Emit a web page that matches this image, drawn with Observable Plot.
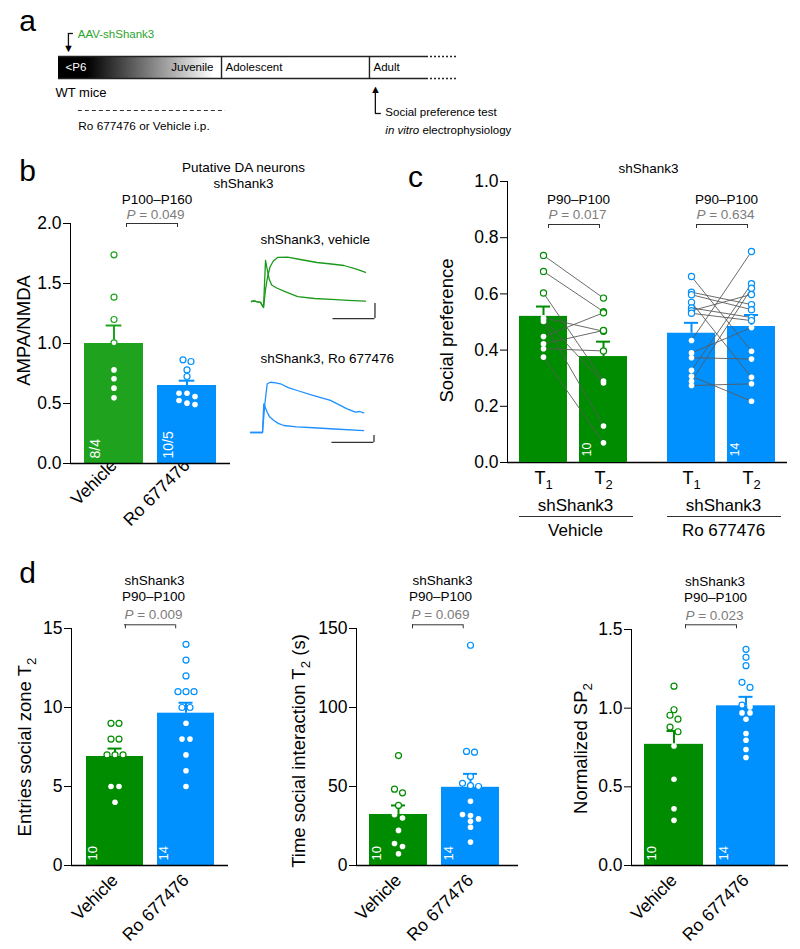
<!DOCTYPE html>
<html><head><meta charset="utf-8">
<script src="https://cdn.jsdelivr.net/npm/d3@7"></script>
<script src="https://cdn.jsdelivr.net/npm/@observablehq/plot@0.6"></script>
<style>
body{margin:0;background:#fff;}
#fig{position:relative;width:800px;height:949px;overflow:hidden;background:#fff;}
</style></head>
<body><div id="fig"></div>
<script>
// ---------------- DATA ----------------
// Panel a (schematic timeline, arbitrary time units)
const stageNames = ["Juvenile", "Adolescent", "Adult"];
const stageBounds = [0, 44.3, 84.5, 100];
const timelineExtension = 108.5;
const startLabel = "<P6";
const strainLabel = "WT mice";
const eventNames = ["AAV-shShank3", "Social preference test"];
const eventTimes = [2.7, 86.1];
const eventSecondLine = "*in vitro* electrophysiology";
const treatmentLabel = "Ro 677476 or Vehicle i.p.";
const treatmentSpan = [5.4, 45.4];

// Panel b
const groups = ["Vehicle", "Ro 677476"];
const bTitle = ["Putative DA neurons", "shShank3"];
const bPeriod = "P100–P160";
const bP = "0.049";
const bVehicle = [1.739, 1.386, 1.2, 1.006, 0.78, 0.706, 0.628, 0.547];
const bRo = [0.864, 0.85, 0.78, 0.725, 0.586, 0.586, 0.558, 0.525, 0.503, 0.492];
const bMeans = [1.0, 0.65];
const bSems = [0.15, 0.04];
const bCounts = ["8/4", "10/5"];
const bTicks = [0, 0.5, 1, 1.5, 2];
const bYLabel = "AMPA/NMDA";

// Panel b example traces (ms, pA)
const traceTitles = ["shShank3, vehicle", "shShank3, Ro 677476"];
const tVehA = [0, 3, 7, 10.7, 14.3, 16.7, 18.5, 21, 24, 30, 40, 55, 75, 95, 115, 135.7];
const vVehA = [0, 2, -1, -3, -20, 137, 110, 75, 55, 45, 33, 16, 10, 7, 4, 1];
const tVehN = [0, 3, 7, 10.7, 14.3, 16.7, 19, 22, 26, 31, 43, 58, 78, 95, 110, 125, 135.7];
const vVehN = [0, 2, -1, -3, -20, 40, 80, 115, 135, 147, 148, 140, 130, 125, 120, 108, 97];
const tRoU = [0, 14.3, 17, 19.9, 23.8, 30, 35.7, 45, 55.6, 75.3, 95.2, 115, 125, 130, 134.8];
const vRoU = [0, 0, 200, 348, 359, 355, 348, 320, 300, 264, 229, 169, 145, 150, 140];
const tRoL = [0, 14.3, 15.8, 19.9, 23, 27.8, 33, 39.6, 55, 75.3, 100, 134.8];
const vRoL = [0, 0, 205, 145, 110, 86, 65, 50, 40, 34, 25, 14];
const scaleBarMs = 50, scaleBarPa = 50;
const scaleBarCornerT = 147;
const scaleBarCornerV = [-57, -71];

// Panel c
const cTitle = "shShank3";
const cTimes = ["T_1", "T_2"];
const cTreatments = ["Vehicle", "Ro 677476"];
const cPeriod = "P90–P100";
const cP = ["0.017", "0.634"];
const cVehT1 = [0.737, 0.68, 0.603, 0.515, 0.51, 0.502, 0.448, 0.422, 0.405, 0.375];
const cVehT2 = [0.585, 0.537, 0.29, 0.467, 0.283, 0.13, 0.533, 0.47, 0.397, 0.07];
const cRoT1 = [0.662, 0.606, 0.597, 0.57, 0.55, 0.54, 0.531, 0.434, 0.39, 0.373, 0.328, 0.307, 0.289, 0.274];
const cRoT2 = [0.396, 0.562, 0.544, 0.303, 0.516, 0.598, 0.505, 0.751, 0.48, 0.368, 0.636, 0.218, 0.62, 0.28];
const cMeanVeh = [0.52, 0.377], cSemVeh = [0.035, 0.053];
const cMeanRo = [0.46, 0.484], cSemRo = [0.037, 0.041];
const cCounts = ["10", "14"];
const cTicks = [0, 0.2, 0.4, 0.6, 0.8, 1.0];
const cYLabel = "Social preference";

// Panel d
const dTitle = ["shShank3", "P90–P100"];
const dCounts = ["10", "14"];
const d1Vehicle = [9, 9, 8, 8, 7, 7, 7, 5, 5, 4];
const d1Ro = [14, 13, 12, 11, 11, 11, 10, 10, 9, 8, 8, 7, 6, 5];
const d1Means = [6.9, 9.64], d1Sems = [0.5, 0.66], d1P = "0.009";
const d1Ticks = [0, 5, 10, 15];
const d1YLabel = "Entries social zone T_2";
const d2Vehicle = [69.6, 48.3, 46, 38, 32.1, 30.1, 22.2, 13.9, 12, 7.4];
const d2Ro = [139.4, 72.2, 71.7, 56.3, 52, 50.5, 50, 40.6, 32.3, 31.6, 29.5, 28, 24.2, 14.8];
const d2Means = [32.3, 49.5], d2Sems = [5.7, 8.5], d2P = "0.069";
const d2Ticks = [0, 50, 100, 150];
const d2YLabel = "Time social interaction T_2 (s)";
const d3Vehicle = [1.14, 0.99, 0.955, 0.93, 0.88, 0.85, 0.76, 0.548, 0.361, 0.287];
const d3Ro = [1.374, 1.323, 1.27, 1.164, 1.132, 1.019, 1.008, 0.97, 0.97, 0.93, 0.839, 0.796, 0.737, 0.686];
const d3Means = [0.77, 1.015], d3Sems = [0.085, 0.057], d3P = "0.023";
const d3Ticks = [0, 0.5, 1.0, 1.5];
const d3YLabel = "Normalized SP_2";

// ---------------- STYLE / HELPERS ----------------
const FONT = '"Liberation Sans", Arial, Helvetica, sans-serif';
const GREEN_B = "#1fa31f", GREEN = "#008c00", BLUE = "#0091ff", PGRAY = "#7d7d7d";
const SVGNS = "http://www.w3.org/2000/svg";
const fig = document.getElementById("fig");
const MID = {textAnchor: "middle", lineAnchor: "middle"};

function baseStyle(fs) {
  return {fontFamily: FONT, fontSize: fs + "px", background: "transparent", overflow: "visible", color: "black", maxWidth: "none"};
}
function richify(root) {
  const leaves = [...root.querySelectorAll("text, tspan")].filter(el => el.children.length === 0 && /[*_]/.test(el.textContent));
  for (const el of leaves) {
    const s = el.textContent;
    el.textContent = "";
    const re = /\*([^*]+)\*|_(\w)|([^*_]+)/g;
    let m, shift = 0;
    while ((m = re.exec(s))) {
      const t = document.createElementNS(SVGNS, "tspan");
      if (m[1] !== undefined) { t.setAttribute("font-style", "italic"); t.textContent = m[1]; }
      else if (m[2] !== undefined) { t.setAttribute("font-size", "0.72em"); t.setAttribute("dy", "0.35em"); t.textContent = m[2]; }
      else { t.textContent = m[3]; }
      if (shift && m[2] === undefined) { t.setAttribute("dy", `-${shift}em`); shift = 0; }
      if (m[2] !== undefined) shift = 0.252;
      el.appendChild(t);
    }
  }
}
function place(svg, left, top) {
  svg.style.position = "absolute";
  svg.style.left = left + "px";
  svg.style.top = top + "px";
  fig.appendChild(svg);
  richify(svg);
}
// horizontal spreading of points with (nearly) equal values, like a scatter column
function slots(values, thresh) {
  const idx = values.map((v, i) => i).sort((a, b) => values[b] - values[a]);
  const out = new Array(values.length);
  let row = [];
  const flush = () => { row.forEach((i, k) => out[i] = k - (row.length - 1) / 2); row = []; };
  for (const i of idx) {
    if (row.length && values[row[0]] - values[i] > thresh) flush();
    row.push(i);
  }
  flush();
  return out;
}

// ---------------- PANEL A ----------------
function panelA() {
  const stages = stageNames.map((name, i) => ({name, start: stageBounds[i], end: stageBounds[i + 1]}));
  const events = eventNames.map((name, i) => ({name, t: eventTimes[i]}));
  const [aav, test] = events;
  const grad = () => {
    const defs = document.createElementNS(SVGNS, "defs");
    defs.innerHTML = '<linearGradient id="juvGrad" x1="0" x2="1" y1="0" y2="0"><stop offset="0.18" stop-color="#000"/><stop offset="0.95" stop-color="#fff"/></linearGradient>';
    return defs;
  };
  const x0 = stageBounds[0], xEnd = stageBounds[stageBounds.length - 1];
  return Plot.plot({
    width: 620, height: 145, marginLeft: 58, marginRight: 194, marginTop: 56, marginBottom: 67,
    x: {domain: [x0, xEnd], axis: null},
    y: {domain: [0, 1], axis: null},
    style: baseStyle(12),
    marks: [
      grad,
      Plot.rect([stages[0]], {x1: "start", x2: "end", y1: 0, y2: 1, fill: "url(#juvGrad)"}),
      Plot.ruleY([0, 1], {x1: x0, x2: xEnd, stroke: "#222", strokeWidth: 1.6}),
      Plot.ruleY([0, 1], {x1: xEnd, x2: timelineExtension, stroke: "#222", strokeWidth: 1.6, strokeDasharray: "2,2"}),
      Plot.ruleX(stages.slice(1), {x: "start", y1: 0, y2: 1, stroke: "#222", strokeWidth: 1.4}),
      Plot.text([startLabel], {x: x0, y: 0.5, textAnchor: "start", dx: 7, fill: "white", fontSize: 11.5}),
      Plot.text([stages[0]], {x: "end", y: 0.5, text: "name", textAnchor: "end", dx: -8, fontSize: 11.5}),
      Plot.text(stages.slice(1), {x: "start", y: 0.5, text: "name", textAnchor: "start", dx: 4, fontSize: 11.5}),
      Plot.text([strainLabel], {x: x0, y: 0, dy: 14, dx: -3, textAnchor: "start", fontSize: 13}),
      Plot.ruleY([0], {x1: treatmentSpan[0], x2: treatmentSpan[1], dy: 32, stroke: "#333", strokeDasharray: "4,3"}),
      Plot.text([treatmentLabel], {x: treatmentSpan[0], y: 0, dy: 48, textAnchor: "start", fontSize: 11.75}),
      // AAV injection arrow
      Plot.ruleX([aav], {x: "t", y1: 1, y2: 1, insetTop: -23, insetBottom: 10, stroke: "#111", strokeWidth: 1.3}),
      Plot.ruleY([aav], {x1: "t", x2: "t", y: 1, dy: -23, insetRight: -5, stroke: "#111", strokeWidth: 1.3}),
      Plot.text([aav], {x: "t", y: 1, text: () => "▼", dy: -8, fontSize: 11}),
      Plot.text([aav], {x: "t", y: 1, text: "name", dx: 9.3, dy: -22, textAnchor: "start", fill: "#2aa52a", fontSize: 11.5}),
      // test arrow
      Plot.text([test], {x: "t", y: 0, text: () => "▲", dy: 11, fontSize: 11}),
      Plot.ruleX([test], {x: "t", y1: 0, y2: 0, insetTop: 13, insetBottom: -35, stroke: "#111", strokeWidth: 1.3}),
      Plot.ruleY([test], {x1: "t", x2: "t", y: 0, dy: 35, insetRight: -6, stroke: "#111", strokeWidth: 1.3}),
      Plot.text([test], {x: "t", y: 0, text: "name", dx: 10, dy: 33.5, textAnchor: "start", fontSize: 11.5}),
      Plot.text([test], {x: "t", y: 0, text: () => eventSecondLine, dx: 10, dy: 51.5, textAnchor: "start", fontSize: 11.5}),
      Plot.text(["a"], {frameAnchor: "top-left", ...MID, dx: -31, dy: -35, fontSize: 30})
    ]
  });
}

// ---------------- BAR PANELS (b, d) ----------------
function barPanel(c) {
  const stats = groups.map((g, i) => ({g, mean: c.means[i], top: c.means[i] + c.sems[i], n: c.counts[i]}));
  const pts = groups.flatMap((g, i) => {
    const vals = c.values[i];
    const sl = slots(vals, c.thresh);
    return vals.map((v, j) => ({g, v, slot: sl[j], open: v > c.means[i]}));
  });
  const slotKeys = [...new Set(pts.map(p => p.slot))];
  const yTop = c.ticks[c.ticks.length - 1];
  const dots = slotKeys.flatMap(s => [
    Plot.dot(pts.filter(p => p.slot === s && !p.open), {x: "g", y: "v", dx: s * c.spacing, r: 2.8, fill: "white"}),
    Plot.dot(pts.filter(p => p.slot === s && p.open), {x: "g", y: "v", dx: s * c.spacing, r: 3, fill: "white", stroke: "g", strokeWidth: 1.2})
  ]);
  const titles = c.titles.map(t => Plot.text([t.text], {frameAnchor: "top", ...MID, dx: t.dx, dy: t.dy, fontSize: 13.5, fill: t.fill || "black"}));
  const marks = [
    Plot.barY(stats, {x: "g", y: "mean", fill: "g"}),
    Plot.ruleX(stats, {x: "g", y1: "mean", y2: "top", stroke: "g", strokeWidth: 2}),
    Plot.tickY(stats, {x: "g", y: "top", stroke: "g", strokeWidth: 2, insetLeft: c.capInset, insetRight: c.capInset}),
    Plot.ruleY([0], {stroke: "black", strokeWidth: 1.3}),
    ...dots,
    Plot.text(stats, {x: "g", frameAnchor: "bottom", text: "n", rotate: -90, textAnchor: "start", lineAnchor: "middle", dx: c.nDx, dy: -5, fill: "white", fontSize: c.nSize}),
    ...titles,
    Plot.ruleY([yTop], {insetLeft: c.br[0], insetRight: c.br[1], dy: c.brDy, stroke: "#333", strokeWidth: 1}),
    Plot.ruleX([groups[0]], {x: d => d, y1: yTop, y2: yTop, insetTop: 4, dx: c.brTick[0], dy: c.brDy, stroke: "#333", strokeWidth: 1}),
    Plot.ruleX([groups[1]], {x: d => d, y1: yTop, y2: yTop, insetTop: 4, dx: c.brTick[1], dy: c.brDy, stroke: "#333", strokeWidth: 1}),
    Plot.text([c.yLabel], {frameAnchor: "left", ...MID, rotate: -90, dx: c.ylDx, dy: c.ylDy, fontSize: 18.5})
  ];
  if (c.letter) marks.push(Plot.text([c.letter], {frameAnchor: "top-left", ...MID, dx: c.letterD[0], dy: c.letterD[1], fontSize: 30}));
  const svg = Plot.plot({
    width: c.width, height: c.height,
    marginLeft: c.m[0], marginRight: c.m[1], marginTop: c.m[2], marginBottom: c.m[3],
    x: {domain: groups, paddingInner: c.pad[0], paddingOuter: c.pad[1], align: c.align ?? 0.5, tickSize: 0, tickRotate: -45, tickPadding: c.xtp, label: null},
    y: {domain: [0, yTop], ticks: c.ticks, tickFormat: c.fmt, tickSize: 7, tickPadding: 2, line: true, label: null},
    color: {domain: groups, range: c.colors},
    style: baseStyle(17.5),
    marks
  });
  place(svg, c.left, c.top);
}

function tracePlot(c) {
  const svg = Plot.plot({
    width: 140, height: c.height, marginLeft: 6, marginRight: 8, marginTop: c.mT, marginBottom: c.mB,
    x: {domain: [0, 150], axis: null},
    y: {domain: c.yDomain, axis: null},
    style: baseStyle(13.5),
    marks: [
      ...c.traces.map(([t, v]) => Plot.line(d3.zip(t, v), {x: d => d[0], y: d => d[1], stroke: c.color, strokeWidth: 1.3})),
      Plot.ruleY([c.corner[1]], {x1: c.corner[0] - scaleBarMs, x2: c.corner[0], stroke: "#333", strokeWidth: 1.3}),
      Plot.ruleX([c.corner[0]], {y1: c.corner[1], y2: c.corner[1] + scaleBarPa, stroke: "#333", strokeWidth: 1.3}),
      Plot.text([c.title], {frameAnchor: "top-left", textAnchor: "start", lineAnchor: "middle", dx: c.titleD[0], dy: c.titleD[1], fontSize: 13.5})
    ]
  });
  place(svg, c.left, c.top);
}

// ---------------- PANEL C ----------------
function panelC() {
  const means = [cMeanVeh, cMeanRo], sems = [cSemVeh, cSemRo];
  const t1 = [cVehT1, cRoT1], t2 = [cVehT2, cRoT2];
  const stats = cTreatments.flatMap((tr, i) => cTimes.map((tm, j) => ({tr, tm, mean: means[i][j], top: means[i][j] + sems[i][j]})));
  const pairs = cTreatments.flatMap((tr, i) => t1[i].map((a, j) => ({tr, t1: cTimes[0], t2: cTimes[1], a, b: t2[i][j]})));
  const pts = cTreatments.flatMap((tr, i) => [t1[i], t2[i]].flatMap((arr, j) => arr.map(v => ({tr, tm: cTimes[j], v, open: v > means[i][j]}))));
  const labels = cTreatments.map((tr, i) => ({tr, tm: cTimes[1], n: cCounts[i], p: cP[i]}));
  const yTop = cTicks[cTicks.length - 1];
  const dims = {width: 400, height: 400, marginLeft: 107, marginRight: 13, marginTop: 31, marginBottom: 88};
  const axes = Plot.plot({
    ...dims,
    y: {domain: [0, yTop], ticks: cTicks, tickFormat: ".1f", tickSize: 7, tickPadding: 2, line: true, label: null},
    style: baseStyle(17.5),
    marks: [
      Plot.ruleY([0], {stroke: "black", strokeWidth: 1.3}),
      Plot.text([cTitle], {frameAnchor: "top", ...MID, dx: 1, dy: -13, fontSize: 13.5}),
      Plot.text([cYLabel], {frameAnchor: "left", ...MID, rotate: -90, dx: -60, dy: 8.5, fontSize: 18.5}),
      Plot.text(["c"], {frameAnchor: "top-left", ...MID, dx: -92, dy: -4, fontSize: 30})
    ]
  });
  place(axes, 400, 150);
  const data = Plot.plot({
    ...dims,
    fx: {domain: cTreatments, paddingInner: 0.189, paddingOuter: 0.04, axis: null, label: null},
    x: {domain: cTimes, paddingInner: 0.2, paddingOuter: 0.1, tickSize: 0, tickPadding: 9, label: null},
    y: {domain: [0, yTop], axis: null},
    color: {domain: cTreatments, range: [GREEN, BLUE]},
    style: baseStyle(18),
    marks: [
      Plot.barY(stats, {fx: "tr", x: "tm", y: "mean", fill: "tr"}),
      Plot.ruleX(stats, {fx: "tr", x: "tm", y1: "mean", y2: "top", stroke: "tr", strokeWidth: 2}),
      Plot.tickY(stats, {fx: "tr", x: "tm", y: "top", stroke: "tr", strokeWidth: 2, insetLeft: 17, insetRight: 17}),
      Plot.link(pairs, {fx: "tr", x1: "t1", x2: "t2", y1: "a", y2: "b", stroke: "#5a5a5a", strokeWidth: 0.9}),
      Plot.dot(pts.filter(p => !p.open), {fx: "tr", x: "tm", y: "v", r: 2.8, fill: "white"}),
      Plot.dot(pts.filter(p => p.open), {fx: "tr", x: "tm", y: "v", r: 3.1, fill: "white", stroke: "tr", strokeWidth: 1.2}),
      Plot.text(labels, {fx: "tr", x: "tm", frameAnchor: "bottom", text: "n", rotate: -90, textAnchor: "start", lineAnchor: "middle", dx: -16.5, dy: -6, fill: "white", fontSize: 12.5}),
      Plot.text(labels, {fx: "tr", frameAnchor: "top", ...MID, text: () => cPeriod, dx: 5, dy: 18.5, fontSize: 13.5}),
      Plot.text(labels, {fx: "tr", frameAnchor: "top", ...MID, text: d => `*P* = ${d.p}`, dx: 4, dy: 33, fontSize: 13.5, fill: PGRAY}),
      Plot.ruleY(labels, {fx: "tr", y: () => yTop, insetLeft: 35, insetRight: 34, dy: 43, stroke: "#333", strokeWidth: 1}),
      Plot.ruleX(labels, {fx: "tr", x: () => cTimes[0], y1: () => yTop, y2: () => yTop, insetTop: 4, dx: 5, dy: 43, stroke: "#333", strokeWidth: 1}),
      Plot.ruleX(labels, {fx: "tr", x: () => cTimes[1], y1: () => yTop, y2: () => yTop, insetTop: 4, dx: -4, dy: 43, stroke: "#333", strokeWidth: 1}),
      Plot.text(labels, {fx: "tr", frameAnchor: "bottom", ...MID, text: () => cTitle, dx: 2, dy: 43, fontSize: 17}),
      Plot.tickY(labels, {fx: "tr", y: () => 0, dy: 54, insetLeft: 6, insetRight: 0, stroke: "#333", strokeWidth: 1}),
      Plot.text(labels, {fx: "tr", frameAnchor: "bottom", ...MID, text: "tr", dx: 2, dy: 68, fontSize: 17})
    ]
  });
  place(data, 400, 150);
}

// ---------------- RENDER ----------------
place(panelA(), 0, 0);

barPanel({
  left: 0, top: 150, width: 400, height: 400, m: [70, 170, 73, 87],
  values: [bVehicle, bRo], means: bMeans, sems: bSems, counts: bCounts, ticks: bTicks, fmt: ".1f",
  colors: [GREEN_B, BLUE], pad: [0.19, 0.19], xtp: -1, thresh: 0.045, spacing: 8, capInset: 21.7,
  nDx: -18.5, nSize: 14,
  titles: [
    {text: bTitle[0], dx: 93, dy: -56}, {text: bTitle[1], dx: 93, dy: -40},
    {text: bPeriod, dx: 6.5, dy: -24}, {text: `*P* = ${bP}`, dx: 5, dy: -9, fill: PGRAY}
  ],
  br: [56, 53], brDy: 0, brTick: [12.5, -9.5],
  yLabel: bYLabel, ylDx: -46, ylDy: -13, letter: "b", letterD: [-43, -52]
});

tracePlot({left: 245, top: 225, height: 100, mT: 25, mB: 3, yDomain: [-70, 170], color: "#1a9a1a",
  traces: [[tVehA, vVehA], [tVehN, vVehN]], corner: [scaleBarCornerT, scaleBarCornerV[0]], title: traceTitles[0], titleD: [9, -11]});
tracePlot({left: 244, top: 345, height: 102, mT: 33.8, mB: 3.8, yDomain: [-80, 380], color: "#1e90ff",
  traces: [[tRoU, vRoU], [tRoL, vRoL]], corner: [scaleBarCornerT, scaleBarCornerV[1]], title: traceTitles[1], titleD: [10, -20.8]});

panelC();

const dTitles = (dxs, p) => [
  {text: dTitle[0], dx: dxs[0], dy: -48}, {text: dTitle[1], dx: dxs[1], dy: -32},
  {text: `*P* = ${p}`, dx: dxs[2], dy: -14, fill: PGRAY}
];
barPanel({
  left: 0, top: 560, width: 270, height: 389, m: [71, 42, 68, 84],
  values: [d1Vehicle, d1Ro], means: d1Means, sems: d1Sems, counts: dCounts, ticks: d1Ticks, fmt: null,
  colors: [GREEN, BLUE], pad: [0.2, 0.2], xtp: 12, thresh: 0.3, spacing: 8, capInset: 21.5,
  nDx: -22, nSize: 13, titles: dTitles([4.5, 3.5, 3.5], d1P),
  br: [53, 53], brDy: -3.7, brTick: [10.4, -10.3],
  yLabel: d1YLabel, ylDx: -46, ylDy: 0, letter: "d", letterD: [-44, -55]
});
barPanel({
  left: 270, top: 560, width: 270, height: 389, m: [86, 22, 68, 84],
  values: [d2Vehicle, d2Ro], means: d2Means, sems: d2Sems, counts: dCounts, ticks: d2Ticks, fmt: null,
  colors: [GREEN, BLUE], pad: [0.194, 0.222], align: 0.41, xtp: 12, thresh: 3.5, spacing: 8, capInset: 22,
  nDx: -22, nSize: 13, titles: dTitles([5, 3, 3], d2P),
  br: [56, 55], brDy: -3.7, brTick: [14, -7.3],
  yLabel: d2YLabel, ylDx: -57, ylDy: 4
});
barPanel({
  left: 540, top: 560, width: 260, height: 389, m: [91, 12, 69, 84],
  values: [d3Vehicle, d3Ro], means: d3Means, sems: d3Sems, counts: dCounts, ticks: d3Ticks, fmt: ".1f",
  colors: [GREEN, BLUE], pad: [0.18, 0.18], xtp: 12, thresh: 0.035, spacing: 8, capInset: 22.5,
  nDx: -22, nSize: 13, titles: dTitles([5, 5.5, 4.5], d3P),
  br: [54, 52], brDy: -4.7, brTick: [11.5, -9.5],
  yLabel: d3YLabel, ylDx: -50, ylDy: 1
});
</script>
</body></html>
